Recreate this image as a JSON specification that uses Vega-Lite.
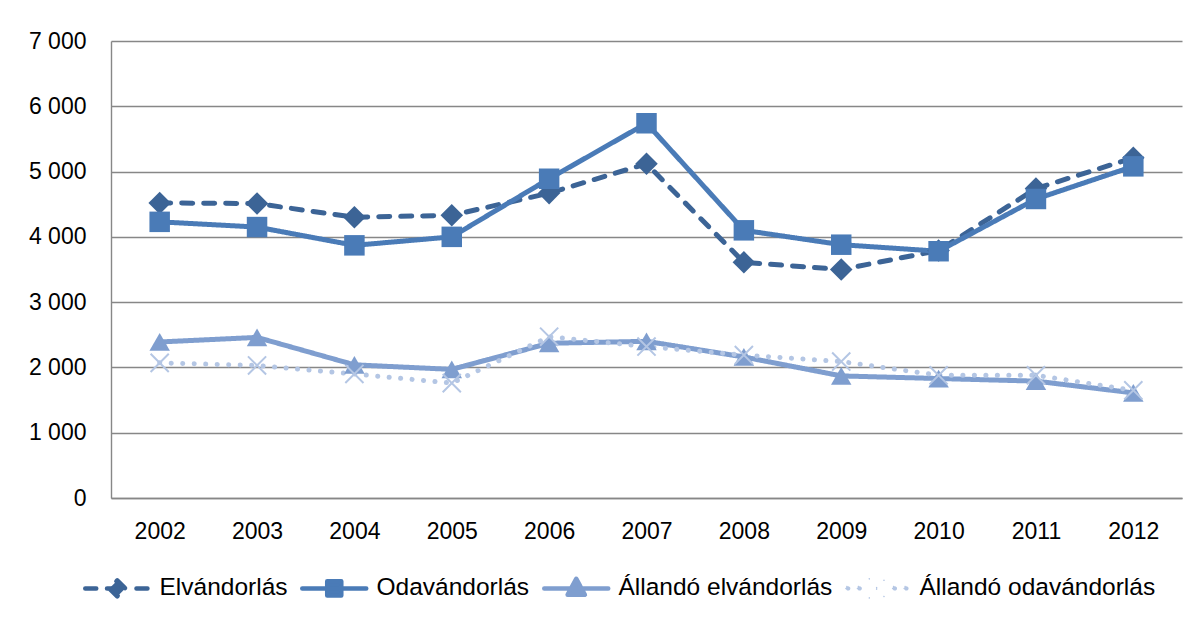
{
  "$schema": "https://vega.github.io/schema/vega-lite/v6.json",
  "width": 1071,
  "height": 457,
  "autosize": {"type": "none"},
  "padding": {"left": 111, "top": 41, "right": 18, "bottom": 126},
  "background": "white",
  "config": {
    "view": {"stroke": null},
    "font": "Liberation Sans",
    "axis": {"labelColor": "#000000", "labelFont": "Liberation Sans", "labelFontSize": 23, "domainColor": "#878787", "domainWidth": 1.4, "gridColor": "#878787", "gridWidth": 1.3, "ticks": false, "title": null}
  },
  "data": {
    "values": [
      {"year": "2002", "series": "Elvándorlás", "value": 4520},
      {"year": "2003", "series": "Elvándorlás", "value": 4510},
      {"year": "2004", "series": "Elvándorlás", "value": 4300},
      {"year": "2005", "series": "Elvándorlás", "value": 4330},
      {"year": "2006", "series": "Elvándorlás", "value": 4670},
      {"year": "2007", "series": "Elvándorlás", "value": 5120},
      {"year": "2008", "series": "Elvándorlás", "value": 3610},
      {"year": "2009", "series": "Elvándorlás", "value": 3500},
      {"year": "2010", "series": "Elvándorlás", "value": 3790},
      {"year": "2011", "series": "Elvándorlás", "value": 4740},
      {"year": "2012", "series": "Elvándorlás", "value": 5210},
      {"year": "2002", "series": "Odavándorlás", "value": 4230},
      {"year": "2003", "series": "Odavándorlás", "value": 4150},
      {"year": "2004", "series": "Odavándorlás", "value": 3870},
      {"year": "2005", "series": "Odavándorlás", "value": 4000},
      {"year": "2006", "series": "Odavándorlás", "value": 4890},
      {"year": "2007", "series": "Odavándorlás", "value": 5740},
      {"year": "2008", "series": "Odavándorlás", "value": 4100},
      {"year": "2009", "series": "Odavándorlás", "value": 3880},
      {"year": "2010", "series": "Odavándorlás", "value": 3780},
      {"year": "2011", "series": "Odavándorlás", "value": 4580},
      {"year": "2012", "series": "Odavándorlás", "value": 5080},
      {"year": "2002", "series": "Állandó elvándorlás", "value": 2390},
      {"year": "2003", "series": "Állandó elvándorlás", "value": 2460},
      {"year": "2004", "series": "Állandó elvándorlás", "value": 2040},
      {"year": "2005", "series": "Állandó elvándorlás", "value": 1970},
      {"year": "2006", "series": "Állandó elvándorlás", "value": 2370},
      {"year": "2007", "series": "Állandó elvándorlás", "value": 2400},
      {"year": "2008", "series": "Állandó elvándorlás", "value": 2160},
      {"year": "2009", "series": "Állandó elvándorlás", "value": 1870},
      {"year": "2010", "series": "Állandó elvándorlás", "value": 1830},
      {"year": "2011", "series": "Állandó elvándorlás", "value": 1790},
      {"year": "2012", "series": "Állandó elvándorlás", "value": 1610},
      {"year": "2002", "series": "Állandó odavándorlás", "value": 2070},
      {"year": "2003", "series": "Állandó odavándorlás", "value": 2030},
      {"year": "2004", "series": "Állandó odavándorlás", "value": 1900},
      {"year": "2005", "series": "Állandó odavándorlás", "value": 1760},
      {"year": "2006", "series": "Állandó odavándorlás", "value": 2470},
      {"year": "2007", "series": "Állandó odavándorlás", "value": 2320},
      {"year": "2008", "series": "Állandó odavándorlás", "value": 2190},
      {"year": "2009", "series": "Állandó odavándorlás", "value": 2090},
      {"year": "2010", "series": "Állandó odavándorlás", "value": 1880},
      {"year": "2011", "series": "Állandó odavándorlás", "value": 1880},
      {"year": "2012", "series": "Állandó odavándorlás", "value": 1650}
    ]
  },
  "encoding": {
    "x": {"field": "year", "type": "ordinal", "scale": {"padding": 0.5}, "axis": {"labelAngle": 0, "labelPadding": 22, "grid": false, "domain": true}},
    "y": {"field": "value", "type": "quantitative", "scale": {"domain": [0, 7000], "nice": false, "zero": true}, "axis": {"values": [0, 1000, 2000, 3000, 4000, 5000, 6000, 7000], "grid": true, "domain": true, "labelPadding": 25, "labelExpr": "replace(format(datum.value, ','), ',', ' ')"}},
    "color": {
      "field": "series", "type": "nominal",
      "scale": {"domain": ["Elvándorlás", "Odavándorlás", "Állandó elvándorlás", "Állandó odavándorlás"], "range": ["#3C6496", "#4A7BB7", "#7F9ECF", "#B4C6E4"]},
      "legend": {
        "title": null, "orient": "none", "legendX": -6, "legendY": 535, "direction": "horizontal", "columns": 4,
        "padding": 0, "columnPadding": 12, "labelOffset": 30, "symbolSize": 4096,
        "labelFont": "Liberation Sans", "labelFontSize": 24.5, "labelColor": "#000000", "labelLimit": 400,
        "encode": {
          "symbols": {
            "update": {
              "shape": {"signal": "datum.value === 'Elvándorlás' ? 'M-1,0L-0.6,0M-0.32,0L0.32,0M0.6,0L1,0M0,-0.25L0.25,0L0,0.25L-0.25,0Z' : datum.value === 'Odavándorlás' ? 'M-1,0L1,0M-0.22,-0.22L0.22,-0.22L0.22,0.22L-0.22,0.22Z' : datum.value === 'Állandó elvándorlás' ? 'M-1,0L1,0M0,-0.3L0.27,0.2L-0.27,0.2Z' : 'M-0.98,0a0.07,0.07 0 1,0 0.14,0a0.07,0.07 0 1,0 -0.14,0ZM-0.62,0a0.07,0.07 0 1,0 0.14,0a0.07,0.07 0 1,0 -0.14,0ZM0.48,0a0.07,0.07 0 1,0 0.14,0a0.07,0.07 0 1,0 -0.14,0ZM0.84,0a0.07,0.07 0 1,0 0.14,0a0.07,0.07 0 1,0 -0.14,0ZM-0.25,-0.3L0.25,0.3M-0.25,0.3L0.25,-0.3'"},
              "fill": {"scale": "color", "field": "value"},
              "stroke": {"scale": "color", "field": "value"},
              "strokeWidth": {"signal": "datum.value === 'Állandó odavándorlás' ? 1.5 : 4.5"},
              "strokeCap": {"value": "round"},
              "strokeJoin": {"value": "round"},
              "opacity": {"value": 1}
            }
          }
        }
      }
    }
  },
  "layer": [
    {
      "mark": {"type": "line", "strokeWidth": 5, "strokeCap": "round", "strokeJoin": "round"},
      "encoding": {
        "strokeDash": {"field": "series", "type": "nominal", "legend": null, "scale": {"domain": ["Elvándorlás", "Odavándorlás", "Állandó elvándorlás", "Állandó odavándorlás"], "range": [[11, 11], [1, 0], [1, 0], [0.1, 11.4]]}}
      }
    },
    {
      "transform": [{"filter": "datum.series !== 'Állandó odavándorlás'"}],
      "mark": {"type": "point", "filled": true, "opacity": 1},
      "encoding": {
        "shape": {"field": "series", "type": "nominal", "legend": null, "scale": {"domain": ["Elvándorlás", "Odavándorlás", "Állandó elvándorlás"], "range": ["M0,-1.1L1.1,0L0,1.1L-1.1,0Z", "square", "triangle-up"]}},
        "size": {"value": 420}
      }
    },
    {
      "transform": [{"filter": "datum.series === 'Állandó odavándorlás'"}],
      "mark": {"type": "point", "filled": false, "opacity": 1, "strokeWidth": 2, "shape": "M-1,-1L1,1M-1,1L1,-1", "size": 330},
      "encoding": {}
    }
  ]
}
